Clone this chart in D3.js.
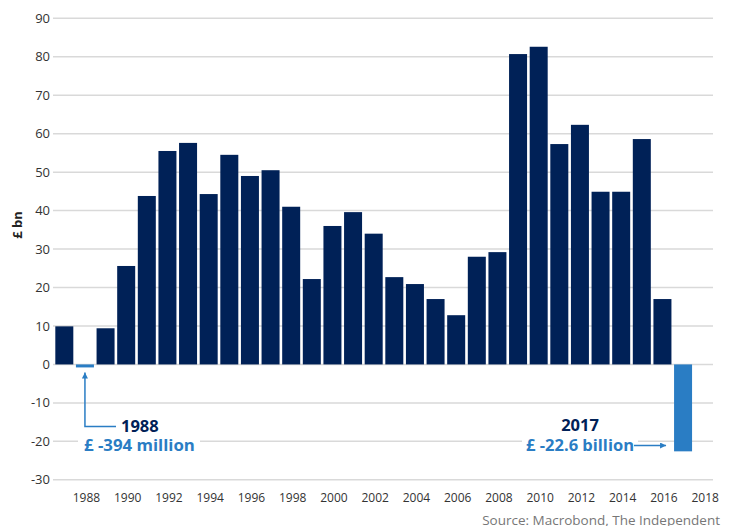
<!DOCTYPE html>
<html lang="en">
<head>
  <meta charset="UTF-8">
  <title>Chart</title>
  <style>
    body { margin: 0; background: #fff; }
    text { font-family: 'Open Sans', sans-serif; }
  </style>
</head>
<body>
  <svg width="733" height="526"></svg>
  <script src="https://cdn.jsdelivr.net/npm/d3@7"></script>
  <script>
    var years = d3.range(1987, 2018)
    var values = [9.9, -0.394, 9.4, 25.6, 43.8, 55.5, 57.6, 44.3, 54.5, 49.0, 50.5,
      41.0, 22.2, 36.0, 39.6, 34.0, 22.7, 20.9, 17.0, 12.8, 28.0, 29.2,
      80.7, 82.6, 57.3, 62.3, 44.9, 44.9, 58.6, 17.0, -22.6]
    var xTicks = d3.range(1988, 2019, 2)
    var yTicks = d3.range(-30, 91, 10)

    var navy = '#002157'
    var blue = '#2a7dc4'

    var svg = d3.select('svg')
    var x = d3.scaleLinear().domain([1986.5, 2018.5]).range([54, 714])
    var y = d3.scaleLinear().domain([-30, 90]).range([479.8, 18.3])
    var bw = 18

    // gridlines
    svg.append('g').selectAll('line')
      .data(yTicks).enter().append('line')
      .attr('x1', 53).attr('x2', 713)
      .attr('y1', function(d) { return y(d) }).attr('y2', function(d) { return y(d) })
      .attr('stroke', '#d9d9d9').attr('stroke-width', 1.5)

    // y labels
    svg.append('g').selectAll('text')
      .data(yTicks).enter().append('text')
      .attr('x', 50).attr('y', function(d) { return y(d) })
      .attr('dy', '0.35em').attr('text-anchor', 'end')
      .attr('font-size', 13).attr('fill', '#333')
      .text(function(d) { return d })

    // x labels
    svg.append('g').selectAll('text')
      .data(xTicks).enter().append('text')
      .attr('x', function(d) { return x(d) + 1.5 }).attr('y', 502)
      .attr('text-anchor', 'middle')
      .attr('font-size', 12).attr('fill', '#333')
      .text(function(d) { return d })

    // bars (tiny values get a minimum visible height)
    svg.append('g').selectAll('rect')
      .data(values).enter().append('rect')
      .attr('x', function(d, i) { return x(years[i]) - bw / 2 })
      .attr('width', bw)
      .attr('y', function(d) { return y(Math.max(0, d)) })
      .attr('height', function(d) { return Math.max(Math.abs(y(d) - y(0)), 3) })
      .attr('fill', function(d, i) { return d < 0 ? blue : navy })

    // axis title
    svg.append('text')
      .attr('transform', 'translate(22,225) rotate(-90)')
      .attr('text-anchor', 'middle')
      .attr('font-size', 13).attr('font-weight', 'bold').attr('fill', '#222')
      .text('£ bn')

    svg.append('defs').append('marker')
      .attr('id', 'ah').attr('viewBox', '0 0 10 10')
      .attr('refX', 10).attr('refY', 5)
      .attr('markerWidth', 8).attr('markerHeight', 6)
      .attr('markerUnits', 'userSpaceOnUse')
      .attr('orient', 'auto')
      .append('path').attr('d', 'M0,0L10,5L0,10z').attr('fill', blue)

    // 1988 annotation
    var ax = x(1988)
    svg.append('rect').attr('x', 78).attr('y', 434).attr('width', 122).attr('height', 20).attr('fill', '#fff')
    svg.append('path')
      .attr('d', 'M116,426.5H' + ax + 'V' + (y(0) + 8))
      .attr('fill', 'none').attr('stroke', blue).attr('stroke-width', 1.5)
      .attr('marker-end', 'url(#ah)')
    svg.append('text').attr('x', 121).attr('y', 432)
      .attr('font-size', 16.5).attr('font-weight', 'bold').attr('fill', navy)
      .text('1988')
    svg.append('text').attr('x', 84).attr('y', 451)
      .attr('font-size', 16.8).attr('font-weight', 'bold').attr('fill', blue)
      .text('£ -394 million')

    // 2017 annotation
    svg.append('rect').attr('x', 522).attr('y', 434).attr('width', 116).attr('height', 20).attr('fill', '#fff')
    svg.append('text').attr('x', 580).attr('y', 431)
      .attr('text-anchor', 'middle')
      .attr('font-size', 16.5).attr('font-weight', 'bold').attr('fill', navy)
      .text('2017')
    svg.append('text').attr('x', 634).attr('y', 451)
      .attr('text-anchor', 'end')
      .attr('font-size', 16.5).attr('font-weight', 'bold').attr('fill', blue)
      .text('£ -22.6 billion')
    svg.append('line')
      .attr('x1', 634).attr('x2', x(2017) - bw / 2 - 8)
      .attr('y1', 445.5).attr('y2', 445.5)
      .attr('stroke', blue).attr('stroke-width', 1.5)
      .attr('marker-end', 'url(#ah)')

    // source
    svg.append('text').attr('x', 720).attr('y', 525)
      .attr('text-anchor', 'end')
      .attr('font-size', 13.5).attr('fill', '#777')
      .text('Source: Macrobond, The Independent')
  </script>
</body>
</html>
